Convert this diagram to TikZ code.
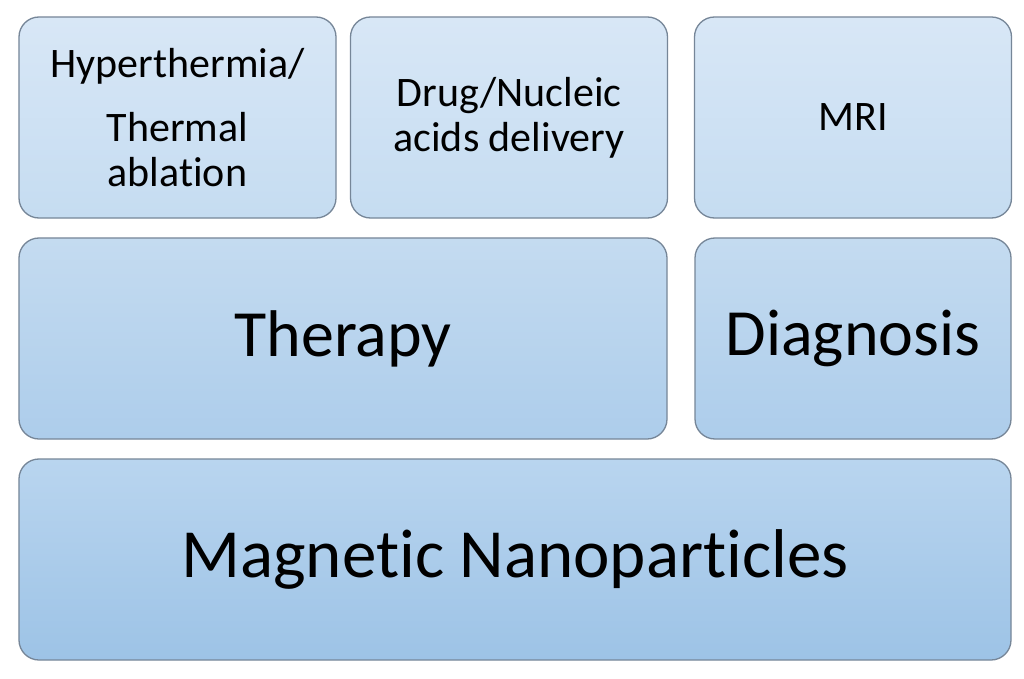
\documentclass[tikz,border=0pt]{standalone}
\usepackage{fontspec}
\setmainfont{Carlito}[RawFeature={-liga;-clig}]
\usetikzlibrary{positioning}
\definecolor{panelEdge}{RGB}{118,134,152}
\definecolor{rowOneTop}{RGB}{216,231,246}
\definecolor{rowOneBot}{RGB}{197,220,241}
\definecolor{rowTwoTop}{RGB}{196,219,240}
\definecolor{rowTwoBot}{RGB}{173,205,235}
\definecolor{rowThreeTop}{RGB}{185,213,239}
\definecolor{rowThreeBot}{RGB}{157,195,230}
\tikzset{
	panel/.style={draw=panelEdge, line width=1.3bp, rounded corners=20bp, inner sep=0pt, align=center, text=black},
	smallpanel/.style={panel, minimum width=317bp, minimum height=201bp, top color=rowOneTop, bottom color=rowOneBot, font=\fontsize{42bp}{45bp}\selectfont},
	bigpanel/.style={panel, minimum height=201bp, top color=rowTwoTop, bottom color=rowTwoBot, font=\fontsize{66bp}{70bp}\selectfont},
}

\begin{document}
\begin{tikzpicture}[x=1bp, y=-1bp]
			%%%%% START %%%%%
			
			\useasboundingbox[fill=white] (0, 0) rectangle (1024, 679);
			
			% applications
			\node[smallpanel] (hyper) at (177.5, 117.5) {Hyperthermia/\\[19bp]Thermal\\ablation};
			\node[smallpanel] (drug) at (509, 117.5) {Drug/Nucleic\\acids delivery};
			\node[smallpanel] (mri) at (853, 117.5) {MRI};
			
			% fields
			\node[bigpanel, minimum width=648bp] (therapy) at (343, 338.5) {Therapy};
			\node[bigpanel, minimum width=316bp] (diag) at (853, 338.5) {Diagnosis};
			
			% base
			\node[bigpanel, minimum width=992bp, top color=rowThreeTop, bottom color=rowThreeBot, font=\fontsize{69bp}{72bp}\selectfont] (mnp) at (515, 559.5) {Magnetic Nanoparticles};
			
			%%%%% END %%%%%
		\end{tikzpicture}
\end{document}
